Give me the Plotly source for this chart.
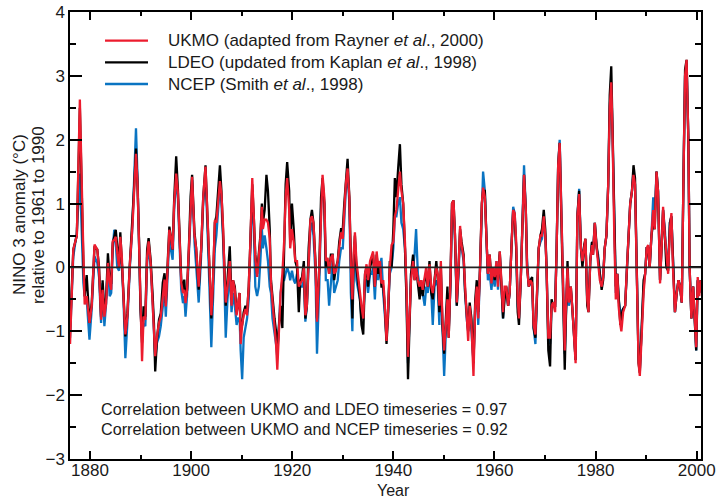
import plotly.graph_objects as go

# ---------------- data ----------------
years = [
    1876.06, 1876.7, 1877.4, 1878.0, 1878.7, 1878.95, 1879.35, 1879.9, 1880.35, 1880.9,
    1881.45, 1881.8, 1882.2, 1882.5, 1882.85, 1883.2, 1883.55, 1883.9, 1884.2, 1884.5,
    1884.8, 1885.1, 1885.4, 1885.75, 1886.0, 1886.3, 1886.65, 1887.0, 1887.4, 1887.9,
    1888.4, 1888.7, 1889.1, 1889.4, 1889.75, 1890.0, 1890.3, 1890.6, 1890.95, 1891.3,
    1891.6, 1892.0, 1892.4, 1892.65, 1892.9, 1893.25, 1893.65, 1894.0, 1894.4, 1894.75,
    1895.0, 1895.35, 1895.7, 1896.0, 1896.35, 1896.65, 1897.05, 1897.4, 1897.7, 1898.05,
    1898.4, 1898.65, 1898.9, 1899.2, 1899.55, 1899.9, 1900.2,
    1900.67, 1901.0, 1901.5, 1902.0, 1902.4, 1902.85, 1903.2, 1903.5, 1904.0, 1904.3,
    1904.7, 1905.0, 1905.35, 1905.7, 1906.0, 1906.35, 1906.6, 1906.85, 1907.2, 1907.65,
    1908.0, 1908.3, 1908.65, 1909.0, 1909.3, 1909.6, 1909.8, 1910.1, 1910.4, 1910.75,
    1911.07, 1911.4, 1911.7, 1912.1, 1912.4, 1912.7, 1913.05, 1913.4, 1913.7, 1914.0,
    1914.2, 1914.55, 1914.9, 1915.2, 1915.55, 1915.8, 1916.1, 1916.5, 1916.8, 1917.05,
    1917.4, 1917.7, 1918.05, 1918.4, 1918.7, 1919.0, 1919.4, 1919.6, 1919.95, 1920.3,
    1920.6, 1920.95, 1921.3, 1921.6, 1921.95, 1922.3, 1922.6, 1922.9, 1923.25, 1923.6,
    1923.9, 1924.2, 1924.6, 1924.9,
    1925.35, 1925.7, 1926.0, 1926.35, 1926.65, 1927.0, 1927.3, 1927.65, 1928.0, 1928.3,
    1928.65, 1929.0, 1929.3, 1929.65, 1930.0, 1930.3, 1930.6, 1930.95, 1931.3, 1931.6,
    1931.9, 1932.15, 1932.4, 1932.7, 1933.1, 1933.4, 1933.7, 1934.05, 1934.4, 1934.7,
    1935.0, 1935.4, 1935.7, 1936.0, 1936.35, 1936.7, 1937.0, 1937.35, 1937.65, 1938.0,
    1938.3, 1938.65, 1939.0, 1939.3, 1939.65, 1940.0, 1940.3, 1940.6, 1940.95, 1941.3,
    1941.6, 1941.95, 1942.3, 1942.6, 1942.9, 1943.2, 1943.5, 1943.9, 1944.2, 1944.5,
    1944.85, 1945.2, 1945.5, 1945.8, 1946.2, 1946.5, 1946.8, 1947.15, 1947.5, 1947.8,
    1948.15, 1948.5, 1948.8, 1949.1,
    1949.4, 1949.7, 1950.05, 1950.4, 1950.7, 1950.95, 1951.3, 1951.6, 1951.9, 1952.2,
    1952.55, 1952.9, 1953.2, 1953.5, 1953.9, 1954.2, 1954.5, 1954.8, 1955.1, 1955.45,
    1955.85, 1956.2, 1956.5, 1956.8, 1957.15, 1957.5, 1957.75, 1958.1, 1958.4, 1958.7,
    1959.05, 1959.4, 1959.7, 1960.05, 1960.4, 1960.7, 1961.05, 1961.4, 1961.7, 1962.0,
    1962.35, 1962.7, 1963.0, 1963.35, 1963.7, 1964.0, 1964.3, 1964.6, 1964.85, 1965.2,
    1965.5, 1965.85, 1966.2, 1966.45, 1966.8, 1967.1, 1967.45, 1967.75, 1968.1, 1968.4,
    1968.75, 1969.1, 1969.4, 1969.75, 1970.05, 1970.3, 1970.65, 1971.0, 1971.3, 1971.6,
    1972.0, 1972.3, 1972.6, 1972.9, 1973.2, 1973.55, 1973.9,
    1974.1, 1974.45, 1974.7, 1975.1, 1975.45, 1975.8, 1976.05, 1976.4, 1976.75, 1977.1,
    1977.4, 1977.75, 1978.0, 1978.35, 1978.6, 1978.95, 1979.3, 1979.5, 1979.85, 1980.2,
    1980.5, 1980.85, 1981.2, 1981.5, 1981.8, 1982.15, 1982.5, 1982.8, 1983.1, 1983.35,
    1983.7, 1984.0, 1984.3, 1984.55, 1984.9, 1985.1, 1985.45, 1985.85, 1986.2, 1986.5,
    1986.85, 1987.2, 1987.5, 1987.8, 1988.15, 1988.5, 1988.75, 1989.1, 1989.5, 1989.8,
    1990.1, 1990.4, 1990.7, 1991.05, 1991.4, 1991.7, 1992.05, 1992.35, 1992.75, 1993.1,
    1993.35, 1993.7, 1994.0, 1994.35, 1994.7, 1995.0, 1995.3, 1995.7, 1996.05, 1996.4,
    1996.7, 1997.05, 1997.4, 1997.7, 1998.0, 1998.35, 1998.6, 1998.95, 1999.3, 1999.55,
    1999.9, 2000.2, 2000.5, 2000.8,
]

ukmo = [
    -1.2, 0.28, 0.5, 2.63, 0.2, -0.58, -0.45, -0.87, -0.6, 0.36,
    0.28, -0.04, -0.82, -0.35, -0.77, -0.56, 0.07, -0.24, -0.35, 0.41,
    0.43, 0.48, 0.22, 0.0, 0.48, 0.17, -0.5, -1.05, -0.77, 0.07,
    0.64, 1.16, 1.78, 1.32, 0.28, -0.71, -1.47, -0.77, -0.82, 0.17,
    0.41, 0.07, -0.56, -0.92, -1.39, -1.08, -0.87, -0.77, -0.45, -0.19,
    -0.61, 0.07, 0.59, 0.48, 0.28, 1.0, 1.47, 1.16, 0.48, -0.24,
    -0.4, -0.35, -0.56, -0.35, 0.28, 1.06, 1.42,
    0.5, 0.3, -0.3, 0.3, 1.1, 1.58, 0.9, 0.2, -0.75, -0.3,
    0.74, 0.7, 1.0, 1.35, 1.15, 0.6, -0.1, -0.55, -0.3, 0.1,
    -0.6, -0.2, -0.35, -0.75, -0.55, -0.4, -1.2, -0.9, -0.75, -0.65,
    -0.75, -0.3, 0.35, 1.4, 0.8, 0.15, -0.15, 0.15, 0.45, 0.95,
    0.6, 0.75, 0.75, 0.7, 0.45, -0.25, -0.55, -0.85, -1.2, -1.6,
    -1.0, -0.4, -0.1, 0.4, 1.1, 1.4, 0.9, 0.3, 0.6, 0.4,
    0.1, 0.1, -0.3, -0.25, -0.2, 0.0, -0.75, -0.6, 0.2, 0.75,
    0.8, 0.7, 0.05, -0.85,
    0.0, 1.0, 1.45, 1.1, 0.1, 0.15, -0.1, 0.15, 0.2, -0.1,
    -0.05, 0.1, 0.35, 0.55, 0.45, 0.9, 1.3, 1.55, 1.1, 0.0,
    -0.5, 0.2, 0.55, 0.1, -0.2, -0.35, -0.6, -0.8, -0.1, 0.05,
    -0.2, 0.1, 0.2, 0.25, -0.3, 0.25, 0.0, 0.1, -0.25, -0.2,
    -0.55, -1.15, -0.6, 0.0, 0.35, 0.4, 0.8, 0.9, 1.2, 1.5,
    1.2, 1.0, 0.4, -0.3, -1.4, -0.8, -0.2, 0.1, -0.2, 0.0,
    -0.2, -0.3, -0.2, -0.35, -0.1, 0.0, -0.3, 0.05, -0.3, -0.4,
    -0.2, 0.0, -0.1, -0.6,
    0.1, -0.8, -1.3, -0.9, -0.5, -1.1, -0.2, 1.0, 1.05, 0.5,
    -0.55, 0.0, 0.65, 0.35, 0.15, -0.3, -0.75, -1.15, -0.6, -0.9,
    -1.7, -0.6, -0.3, -0.8, 0.0, 1.0, 1.25, 1.1, 0.5, -0.1,
    0.2, -0.25, 0.0, -0.15, 0.1, -0.3, 0.25, -0.3, -0.7, -0.3,
    -0.3, -0.6, -0.4, 0.3, 0.9, 0.85, 0.4, -0.5, -0.8, -0.2,
    0.7, 1.45, 0.9, 0.0, -0.3, -0.2, -0.25, -0.9, -1.05, -0.4,
    0.3, 0.5, 0.5, 0.8, 0.5, 0.0, -1.1, -1.1, -0.6, -0.55,
    -0.7, 0.3, 1.6, 1.95, 1.0, -0.5, -1.3,
    -0.7, 0.0, -0.55, -0.3, -0.7, -1.1, -1.5, 0.8, 1.15, 0.3,
    0.1, 0.3, 0.45, -0.5, -0.7, 0.1, 0.35, 0.2, 0.7, 0.3,
    0.1, -0.2, -0.3, -0.15, 0.3, 0.5, 1.3, 2.5, 2.9, 2.1,
    0.5, -0.5, -0.1, -0.6, -0.9, -1.0, -0.7, -0.6, 0.0, 0.5,
    1.0, 1.2, 1.45, 1.3, 0.0, -1.5, -1.7, -1.0, -0.4, -0.1,
    0.3, 0.35, 0.0, 0.5, 0.9, 0.6, 1.5, 1.2, -0.25, 0.4,
    0.95, 0.5, 0.2, -0.1, 0.6, 0.85, 0.0, -0.7, -0.4, -0.2,
    -0.3, -0.55, 1.5, 3.0, 3.25, 2.0, 0.0, -0.8, -0.3, -0.8,
    -1.25, -0.15, -0.45, -0.2,
]

ldeo = [
    -1.0, 0.28, 0.5, 2.5, 0.05, -0.45, -0.12, -0.87, -0.55, 0.33,
    0.28, 0.0, -0.78, -0.2, -0.72, -0.47, 0.22, -0.19, -0.26, 0.38,
    0.48, 0.59, 0.33, 0.05, 0.55, 0.17, -0.45, -1.08, -0.72, 0.07,
    0.69, 1.21, 1.86, 1.32, 0.28, -0.66, -1.18, -0.61, -0.77, 0.28,
    0.46, 0.12, -0.45, -0.87, -1.63, -1.13, -0.82, -0.72, -0.24, -0.09,
    -0.56, 0.12, 0.64, 0.48, 0.28, 1.06, 1.74, 1.21, 0.48, -0.19,
    -0.35, -0.19, -0.51, -0.35, 0.28, 1.11, 1.45,
    0.55, 0.3, -0.35, 0.3, 1.1, 1.6, 0.9, 0.2, -0.8, -0.3,
    0.7, 0.8, 1.2, 1.6, 1.2, 0.6, 0.0, -0.6, -0.2, 0.33,
    -0.5, -0.2, -0.3, -0.7, -0.6, -0.4, -1.0, -0.9, -0.7, -0.6,
    -0.7, -0.3, 0.35, 1.3, 0.8, 0.2, -0.1, 0.2, 0.5, 1.0,
    0.7, 0.9, 1.45, 1.2, 0.6, -0.2, -0.5, -0.8, -1.0, -1.3,
    -0.9, -0.6, -0.95, 0.2, 1.3, 1.65, 1.2, 0.4, 1.0, 0.6,
    0.1, 0.0, -0.7, -0.2, -0.15, 0.1, -0.8, -0.6, 0.3, 0.75,
    0.9, 0.7, 0.1, -0.8,
    0.0, 1.1, 1.4, 1.0, 0.0, 0.1, -0.1, 0.2, 0.2, -0.2,
    0.0, 0.1, 0.4, 0.6, 0.6, 1.0, 1.3, 1.7, 1.1, -0.1,
    -0.8, 0.1, 0.5, 0.0, -0.3, -0.5, -0.9, -1.05, -0.1, 0.0,
    -0.3, 0.0, 0.1, 0.2, -0.3, 0.2, -0.1, 0.0, -0.3, -0.3,
    -0.6, -1.2, -0.7, 0.1, 0.0, 0.6, 1.4, 1.1, 1.55, 1.93,
    1.3, 1.0, 0.3, -0.5, -1.75, -0.7, -0.1, 0.2, -0.2, 0.0,
    -0.3, -0.5, -0.2, -0.45, -0.2, -0.1, -0.3, 0.1, -0.4, -0.5,
    -0.2, 0.1, -0.2, -0.7,
    0.0, -0.9, -1.35, -0.8, -0.3, -1.1, -0.2, 1.0, 1.05, 0.5,
    -0.6, 0.0, 0.6, 0.4, 0.2, -0.4, -0.75, -1.0, -0.55, -0.8,
    -1.5, -0.5, -0.2, -0.7, 0.0, 1.0, 1.2, 1.2, 0.5, -0.1,
    0.2, -0.2, 0.0, -0.2, 0.0, -0.2, 0.25, -0.4, -0.8, -0.5,
    -0.3, -0.6, -0.4, 0.3, 0.9, 0.8, 0.3, -0.7, -0.9, -0.2,
    0.7, 1.45, 0.9, 0.0, -0.3, -0.2, -0.15, -0.95, -1.1, -0.4,
    0.3, 0.5, 0.6, 0.9, 0.6, 0.0, -1.3, -1.55, -0.5, -0.6,
    -0.6, 0.3, 1.6, 1.95, 1.0, -0.5, -1.6,
    -0.9, 0.1, -0.5, -0.3, -0.7, -1.1, -1.45, 0.8, 1.2, 0.3,
    0.0, 0.35, 0.45, -0.6, -0.7, 0.1, 0.4, 0.2, 0.7, 0.35,
    0.1, -0.1, -0.35, -0.2, 0.3, 0.5, 1.3, 2.7, 3.15, 2.2,
    0.5, -0.3, -0.1, -0.5, -0.9, -0.75, -0.65, -0.6, 0.0, 0.5,
    1.0, 1.2, 1.6, 1.4, 0.0, -1.5, -1.65, -1.0, -0.2, -0.1,
    0.3, 0.3, 0.0, 0.5, 0.7, 0.6, 1.5, 1.2, -0.2, 0.4,
    0.9, 0.5, 0.0, -0.05, 0.7, 0.8, 0.0, -0.7, -0.4, -0.2,
    -0.3, -0.55, 1.5, 3.1, 3.25, 2.0, 0.0, -0.8, -0.3, -0.8,
    -1.3, -0.2, -0.4, -0.2,
]

ncep = [
    -1.1, 0.17, 0.55, 1.47, -0.25, -0.45, -0.5, -1.13, -0.65, 0.17,
    0.07, -0.15, -0.87, -0.25, -0.92, -0.56, 0.07, -0.45, -0.4, 0.28,
    0.59, 0.38, 0.0, -0.05, 0.28, 0.07, -0.56, -1.42, -0.87, 0.02,
    0.64, 1.32, 2.18, 1.42, 0.28, -0.66, -1.08, -0.87, -0.92, 0.07,
    0.33, 0.02, -0.56, -1.03, -1.44, -1.18, -1.08, -0.92, -0.56, -0.35,
    -0.77, -0.04, 0.48, 0.28, 0.12, 0.9, 1.42, 1.06, 0.38, -0.35,
    -0.56, -0.45, -0.77, -0.45, 0.17, 1.0, 1.37,
    0.4, 0.0, -0.55, 0.2, 1.0, 1.5, 0.8, 0.0, -1.25, -0.5,
    0.3, 0.5, 0.9, 1.3, 1.0, 0.4, -0.3, -1.1, -0.5, -0.1,
    -0.7, -0.4, -0.6, -0.9, -0.8, -0.8, -1.3, -1.75, -1.1, -0.9,
    -0.8, -0.5, 0.2, 1.2, 0.6, -0.3, -0.45, -0.3, 0.1, 0.6,
    0.3, 0.5, 0.3, 0.1, -0.3, -0.4, -0.8, -1.0, -1.2, -1.4,
    -0.9, -0.4, -0.2, -0.2, -0.1, 0.0, -0.1, -0.2, -0.05, -0.2,
    -0.25, -0.1, -0.3, -0.3, -0.3, -0.2, -0.85, -0.6, 0.1, 0.6,
    0.7, 0.5, -0.1, -1.35,
    -0.3, 0.9, 1.3, 1.0, -0.2, -0.2, -0.6, -0.2, 0.1, -0.4,
    -0.3, -0.2, 0.1, 0.3, 0.3, 0.8, 1.2, 1.5, 1.0, -0.4,
    -1.0, 0.0, 0.4, -0.2, -0.4, -0.5, -0.8, -0.8, -0.2, -0.2,
    -0.4, -0.1, -0.1, 0.0, -0.5, 0.1, -0.2, 0.0, 0.15, -0.4,
    -0.7, -1.1, -0.6, -0.1, 0.0, 0.3, 0.8, 0.8, 1.0, 1.1,
    0.7, 0.6, 0.3, -0.4, -1.5, -0.7, -0.1, 0.0, 0.2, 0.6,
    -0.1, -0.3, -0.4, -0.4, -0.6, -0.3, -0.4, -0.1, -0.4, -0.9,
    -0.3, -0.2, -0.3, -0.9,
    -0.1, -0.9, -1.7, -1.0, -0.4, -1.0, -0.3, 0.9, 0.95, 0.4,
    -0.6, -0.1, 0.55, 0.3, 0.1, -0.4, -0.8, -1.0, -0.7, -1.0,
    -1.5, -0.6, -0.4, -0.9, -0.1, 1.0, 1.5, 1.2, 0.4, -0.2,
    -0.1, -0.35, -0.1, -0.3, 0.1, -0.35, 0.2, -0.3, -0.8, -0.4,
    -0.4, -0.6, -0.4, 0.3, 0.95, 0.85, 0.3, -0.6, -0.8, -0.2,
    0.8, 1.6, 0.9, 0.1, -0.3, -0.2, -0.3, -0.95, -1.2, -0.4,
    0.3, 0.4, 0.45, 0.7, 0.5, 0.0, -1.1, -1.2, -0.6, -0.6,
    -0.6, 0.3, 1.6, 2.0, 1.0, -0.5, -1.35,
    -0.8, -0.1, -0.6, -0.35, -0.7, -1.1, -1.45, 0.8, 1.23, 0.3,
    0.1, 0.35, 0.4, -0.5, -0.6, 0.1, 0.4, 0.25, 0.7, 0.3,
    0.2, -0.1, -0.3, -0.15, 0.3, 0.5, 1.3, 2.5, 2.9, 2.1,
    0.5, -0.4, -0.1, -0.5, -0.7, -0.7, -0.65, -0.6, 0.0, 0.5,
    1.0, 1.2, 1.5, 1.3, 0.0, -1.4, -1.6, -1.0, -0.3, -0.1,
    0.3, 0.3, 0.0, 0.5, 1.1, 0.8, 1.5, 1.2, -0.2, 0.4,
    0.9, 0.6, 0.2, 0.0, 0.7, 0.8, 0.0, -0.7, -0.4, -0.2,
    -0.3, -0.55, 1.5, 3.0, 3.2, 2.0, 0.0, -0.8, -0.3, -0.8,
    -1.3, -0.2, -0.4, -0.2,
]

assert len(years) == len(ukmo) == len(ldeo) == len(ncep), (len(years), len(ukmo), len(ldeo), len(ncep))

series_names = [
    "UKMO (adapted from Rayner <i>et al</i>., 2000)",
    "LDEO (updated from Kaplan <i>et al</i>., 1998)",
    "NCEP (Smith <i>et al</i>., 1998)",
]
corr_texts = [
    "Correlation between UKMO and LDEO timeseries = 0.97",
    "Correlation between UKMO and NCEP timeseries = 0.92",
]
y_title_lines = ["NINO 3 anomaly (°C)", "relative to 1961 to 1990"]
x_title = "Year"

RED = "#ec1c2e"
BLACK = "#000000"
BLUE = "#0a74c2"
series_colors = [RED, BLACK, BLUE]
FONT = "Liberation Sans, Arial, Helvetica, sans-serif"
TXT = "#1a1a1a"

fig = go.Figure()
# drawn bottom-to-top: NCEP, LDEO, UKMO (red on top)
fig.add_trace(go.Scatter(x=years, y=ncep, mode="lines", name=series_names[2],
                         line=dict(color=BLUE, width=2.3)))
fig.add_trace(go.Scatter(x=years, y=ldeo, mode="lines", name=series_names[1],
                         line=dict(color=BLACK, width=2.3)))
fig.add_trace(go.Scatter(x=years, y=ukmo, mode="lines", name=series_names[0],
                         line=dict(color=RED, width=2.3)))

axis_common = dict(
    showline=True, linecolor="black", linewidth=1.5, mirror="ticks",
    ticks="inside", tickcolor="black", tickwidth=1.5,
    showgrid=False, zeroline=False, automargin=False,
    tickfont=dict(family=FONT, size=17, color=TXT),
)

fig.update_xaxes(
    range=[1876.05, 2000.85], tick0=1880, dtick=20, ticklen=8,
    minor=dict(tick0=1880, dtick=10, ticklen=4, ticks="inside", tickcolor="black", tickwidth=1.5, showgrid=False),
    ticklabelstandoff=-5,
    **axis_common,
)
fig.update_yaxes(
    range=[-3, 4], tick0=0, dtick=1, ticklen=12,
    minor=dict(tick0=0, dtick=0.5, ticklen=6, ticks="inside", tickcolor="black", tickwidth=1.5, showgrid=False),
    **axis_common,
)

# zero reference line
fig.add_shape(type="line", xref="paper", yref="y", x0=0, x1=1, y0=0, y1=0,
              line=dict(color="#222222", width=1.8), layer="above")

annotations = []
# legend keys drawn manually (line + label)
legend_rows = [0.9358, 0.8875, 0.8389]
for i, name in enumerate(series_names):
    fig.add_shape(type="line", xref="paper", yref="paper", x0=0.0555, x1=0.1236,
                  y0=legend_rows[i], y1=legend_rows[i],
                  line=dict(color=series_colors[i], width=2.3))
    annotations.append(dict(text=name, xref="paper", yref="paper", x=0.152, y=legend_rows[i],
                            xanchor="left", yanchor="middle", showarrow=False,
                            font=dict(family=FONT, size=17, color=TXT)))

for i, t in enumerate(corr_texts):
    annotations.append(dict(text=t, xref="paper", yref="paper", x=0.046, y=[0.1115, 0.067][i],
                            xanchor="left", yanchor="middle", showarrow=False,
                            font=dict(family=FONT, size=16.2, color=TXT)))
for i, t in enumerate(y_title_lines):
    annotations.append(dict(text=t, xref="paper", yref="paper", x=[-0.0792, -0.0491][i], y=0.546,
                            xanchor="center", yanchor="middle", showarrow=False, textangle=-90,
                            font=dict(family=FONT, size=17, color=TXT)))
# x-axis title
annotations.append(dict(text=x_title, xref="paper", yref="paper", x=0.512, y=-0.0705,
                        xanchor="center", yanchor="middle", showarrow=False,
                        font=dict(family=FONT, size=16, color=TXT)))

fig.update_layout(
    width=719, height=499,
    margin=dict(l=70, r=18, t=12, b=40),
    paper_bgcolor="white", plot_bgcolor="white",
    font=dict(family=FONT, size=17, color=TXT),
    showlegend=False,
    annotations=annotations,
)

fig.write_html("out.html", config={"displayModeBar": False},
               post_script="document.body.style.margin='0';")
